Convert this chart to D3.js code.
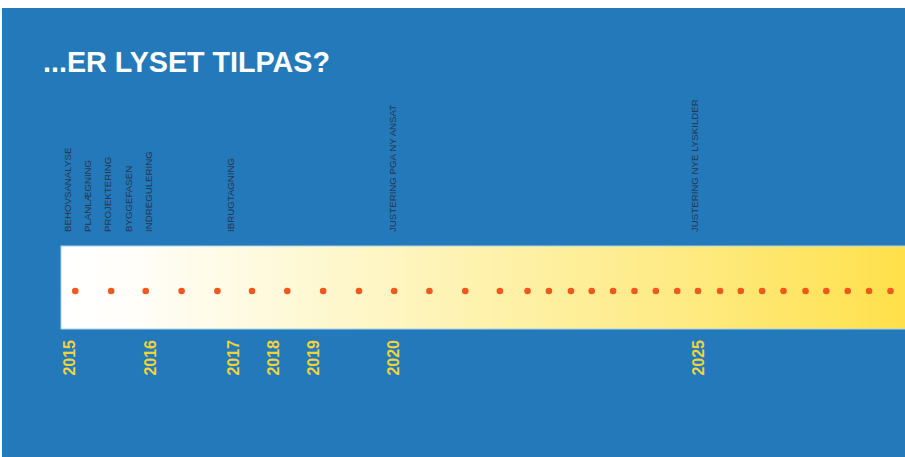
<!DOCTYPE html>
<html>
<head>
<meta charset="utf-8">
<script src="https://cdn.jsdelivr.net/npm/d3@7"></script>
<style>
  html, body { margin: 0; padding: 0; background: #ffffff; }
  svg { display: block; }
</style>
</head>
<body>
<script>
// ---- data (time positions, decimal years) ----
const title = "...ER LYSET TILPAS?";
const eventLabels = ["BEHOVSANALYSE", "PLANLÆGNING", "PROJEKTERING", "BYGGEFASEN", "INDREGULERING", "IBRUGTAGNING", "JUSTERING PGA NY ANSAT", "JUSTERING NYE LYSKILDER"];
const eventTimes  = [2014.97, 2015.30, 2015.62, 2015.94, 2016.26, 2017.56, 2020.14, 2024.95];
const yearLabels = ["2015", "2016", "2017", "2018", "2019", "2020", "2025"];
const yearTimes  = [2015.00, 2016.29, 2017.61, 2018.24, 2018.88, 2020.15, 2025.00];
const dotTimes = [2015.10, 2015.67, 2016.22, 2016.79, 2017.36, 2017.91, 2018.47, 2019.04, 2019.61, 2020.17,
                  2020.73, 2021.30, 2021.85, 2022.29, 2022.63, 2022.98, 2023.31, 2023.65, 2023.99, 2024.33,
                  2024.67, 2025.00, 2025.35, 2025.68, 2026.02, 2026.36, 2026.71, 2027.04, 2027.38, 2027.72, 2028.06];

// ---- layout ----
const W = 905, H = 457;
const bandTop = 246, bandBottom = 329, bandLeft = 61;
const dotY = 291;

const svg = d3.select("body").append("svg").attr("width", W).attr("height", H);

// background
svg.append("rect").attr("x", 0).attr("y", 0).attr("width", W).attr("height", H).attr("fill", "#ffffff");
svg.append("rect").attr("x", 2).attr("y", 8).attr("width", W - 2).attr("height", H - 8).attr("fill", "#2479bb");

const x = d3.scaleLinear().domain([2015, 2025]).range([69, 698]);

// gradient
const defs = svg.append("defs");
const grad = defs.append("linearGradient").attr("id", "band").attr("x1", "0%").attr("x2", "100%").attr("y1", "0%").attr("y2", "0%");
[[0, "#ffffff"], [0.08, "#fffefa"], [0.3, "#fef8d2"], [0.5, "#fef2ad"], [0.75, "#feea80"], [1, "#ffe04a"]]
  .forEach(([o, c]) => grad.append("stop").attr("offset", o).attr("stop-color", c));

svg.append("rect")
  .attr("x", bandLeft).attr("y", bandTop)
  .attr("width", W - bandLeft + 2).attr("height", bandBottom - bandTop)
  .attr("fill", "url(#band)")
  .attr("stroke", "#a8d4ea").attr("stroke-width", 1);

// title
svg.append("text")
  .attr("x", 43).attr("y", 72)
  .attr("fill", "#ffffff")
  .attr("font-family", "'Liberation Sans', Arial, sans-serif")
  .attr("font-weight", "bold")
  .attr("font-size", 29)
  .attr("textLength", 287).attr("lengthAdjust", "spacingAndGlyphs")
  .text(title);

// dots
svg.append("g").selectAll("circle").data(dotTimes).join("circle")
  .attr("cx", d => x(d)).attr("cy", dotY).attr("r", 3.3)
  .attr("fill", "#f2571d");

// event labels (rotated)
svg.append("g").selectAll("text").data(eventLabels).join("text")
  .attr("transform", (d, i) => `translate(${x(eventTimes[i])},232) rotate(-90)`)
  .attr("dy", "0.36em")
  .attr("text-anchor", "start")
  .attr("fill", "#26374f")
  .attr("font-family", "'Liberation Sans', Arial, sans-serif")
  .attr("font-size", 9.7)
  .text(d => d);

// year labels (rotated)
svg.append("g").selectAll("text").data(yearLabels).join("text")
  .attr("transform", (d, i) => `translate(${x(yearTimes[i])},340) rotate(-90)`)
  .attr("dy", "0.36em")
  .attr("text-anchor", "end")
  .attr("fill", "#f0d43c")
  .attr("font-family", "'Liberation Sans', Arial, sans-serif")
  .attr("font-weight", "bold")
  .attr("font-size", 16)
  .text(d => d);
</script>
</body>
</html>
